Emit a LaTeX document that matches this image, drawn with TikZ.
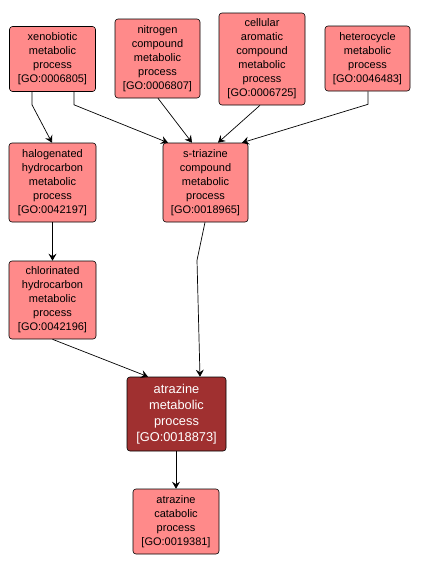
\documentclass[tikz,border=0pt]{standalone}
\usepackage{fontspec}
\setmainfont{Liberation Sans}
\usetikzlibrary{arrows.meta}
\definecolor{golight}{RGB}{255,138,138}
\definecolor{godark}{RGB}{160,48,48}
\tikzset{
  term/.style={draw=black, line width=0.6pt, rounded corners=3pt, fill=golight, align=center,
    inner sep=0pt, font=\fontsize{11}{14}\selectfont, text=black},
  focus/.style={term, fill=godark, text=white, font=\fontsize{12.8}{16}\selectfont},
  arr/.style={draw=black, line width=0.7pt, -{Stealth[length=7pt,width=8pt,inset=2.5pt]}}
}
\begin{document}
\begin{tikzpicture}[x=1pt,y=1pt]
\useasboundingbox (0,0) rectangle (421,-568);
\node[term, minimum width=86pt, minimum height=65pt] (xeno) at (52.5,-59) {xenobiotic\\metabolic\\process\\{[GO:0006805]}};
\node[term, minimum width=85pt, minimum height=79pt] (nitro) at (157.5,-58.5) {nitrogen\\compound\\metabolic\\process\\{[GO:0006807]}};
\node[term, minimum width=86pt, minimum height=92pt] (cell) at (262,-59) {cellular\\aromatic\\compound\\metabolic\\process\\{[GO:0006725]}};
\node[term, minimum width=85pt, minimum height=65pt] (hetero) at (367.5,-58.5) {heterocycle\\metabolic\\process\\{[GO:0046483]}};
\node[term, minimum width=87pt, minimum height=79pt] (halo) at (52.5,-182.5) {halogenated\\hydrocarbon\\metabolic\\process\\{[GO:0042197]}};
\node[term, minimum width=85pt, minimum height=79pt] (stri) at (205.5,-182.5) {s-triazine\\compound\\metabolic\\process\\{[GO:0018965]}};
\node[term, minimum width=87pt, minimum height=78pt] (chlor) at (52.5,-300) {chlorinated\\hydrocarbon\\metabolic\\process\\{[GO:0042196]}};
\node[focus, minimum width=99pt, minimum height=74pt] (atra) at (176.5,-414) {atrazine\\metabolic\\process\\{[GO:0018873]}};
\node[term, minimum width=86pt, minimum height=65pt] (cata) at (176,-521.5) {atrazine\\catabolic\\process\\{[GO:0019381]}};

\draw[arr] ([xshift=-20.5pt]xeno.south) -- ++(0,-13) -- ([xshift=-0.5pt]halo.north);
\draw[arr] ([xshift=21.5pt]xeno.south) -- ++(0,-13) -- ([xshift=-37.5pt]stri.north);
\draw[arr] ([xshift=0.5pt]nitro.south) -- ([xshift=-13.5pt]stri.north);
\draw[arr] ([xshift=-2pt]cell.south) -- ([xshift=12.5pt]stri.north);
\draw[arr] ([xshift=0.5pt]hetero.south) -- ++(0,-13) -- ([xshift=36.5pt]stri.north);
\draw[arr] (halo.south) -- (chlor.north);
\draw[arr] ([xshift=-0.5pt]stri.south) -- ++(-8,-38) -- ([xshift=23.5pt]atra.north);
\draw[arr] (chlor.south) -- ([xshift=-28.5pt]atra.north);
\draw[arr] ([xshift=-0.5pt]atra.south) -- ([xshift=0pt]cata.north);
\end{tikzpicture}
\end{document}
